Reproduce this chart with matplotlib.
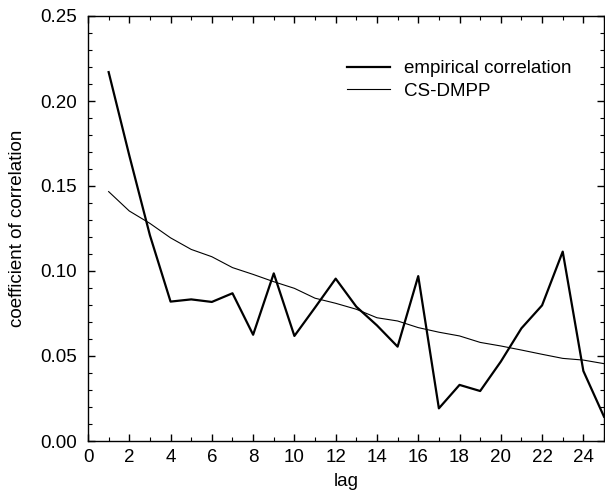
import matplotlib
matplotlib.use("Agg")
import matplotlib.pyplot as plt
from matplotlib.ticker import MultipleLocator

plt.rcParams['font.family'] = ['Liberation Sans', 'DejaVu Sans']

lags = list(range(1, 26))
empirical = [0.217, 0.168, 0.121, 0.082, 0.0833, 0.0818, 0.0869, 0.0625, 0.0986, 0.0618,
             0.0785, 0.0955, 0.079, 0.068, 0.0555, 0.097, 0.0192, 0.033, 0.0294, 0.0467,
             0.0663, 0.0798, 0.1114, 0.0412, 0.0143]
cs_dmpp = [0.1467, 0.1353, 0.128, 0.1195, 0.1127, 0.1084, 0.102, 0.098, 0.0937, 0.0898,
           0.084, 0.081, 0.0775, 0.0725, 0.0706, 0.0667, 0.064, 0.0618, 0.058, 0.0559,
           0.0535, 0.051, 0.0486, 0.0476, 0.0455]

fs = 13.5
fig = plt.figure(figsize=(6.05, 4.95), dpi=100)
ax = fig.add_axes([88/605, 1-441/495, (604-88)/605, (441-16)/495])

ax.plot(lags, empirical, color='black', lw=1.6, label='empirical correlation')
ax.plot(lags, cs_dmpp, color='black', lw=0.8, label='CS-DMPP')

ax.set_xlim(0, 25)
ax.set_ylim(0, 0.25)
ax.xaxis.set_major_locator(MultipleLocator(2))
ax.xaxis.set_minor_locator(MultipleLocator(1))
ax.yaxis.set_major_locator(MultipleLocator(0.05))
ax.yaxis.set_minor_locator(MultipleLocator(0.01))
ax.set_yticklabels([f'{v:.2f}' for v in ax.get_yticks()])
ax.tick_params(which='both', direction='in', top=True, right=True, labelsize=fs)
ax.tick_params(axis='y', pad=8)
ax.tick_params(axis='x', pad=6)
ax.tick_params(which='major', length=5, width=1)
ax.tick_params(which='minor', length=3, width=0.8)
for s in ax.spines.values():
    s.set_linewidth(1)

ax.set_xlabel('lag', fontsize=fs, labelpad=5)
ax.set_ylabel('coefficient of correlation', fontsize=fs, labelpad=10)

ax.legend(loc='upper left', frameon=False, fontsize=fs, handlelength=2.3,
          handletextpad=0.75, labelspacing=0.3, borderpad=0, borderaxespad=0,
          bbox_to_anchor=((347-88)/516, (441-60)/425))

fig.savefig('out.png', dpi=100)
